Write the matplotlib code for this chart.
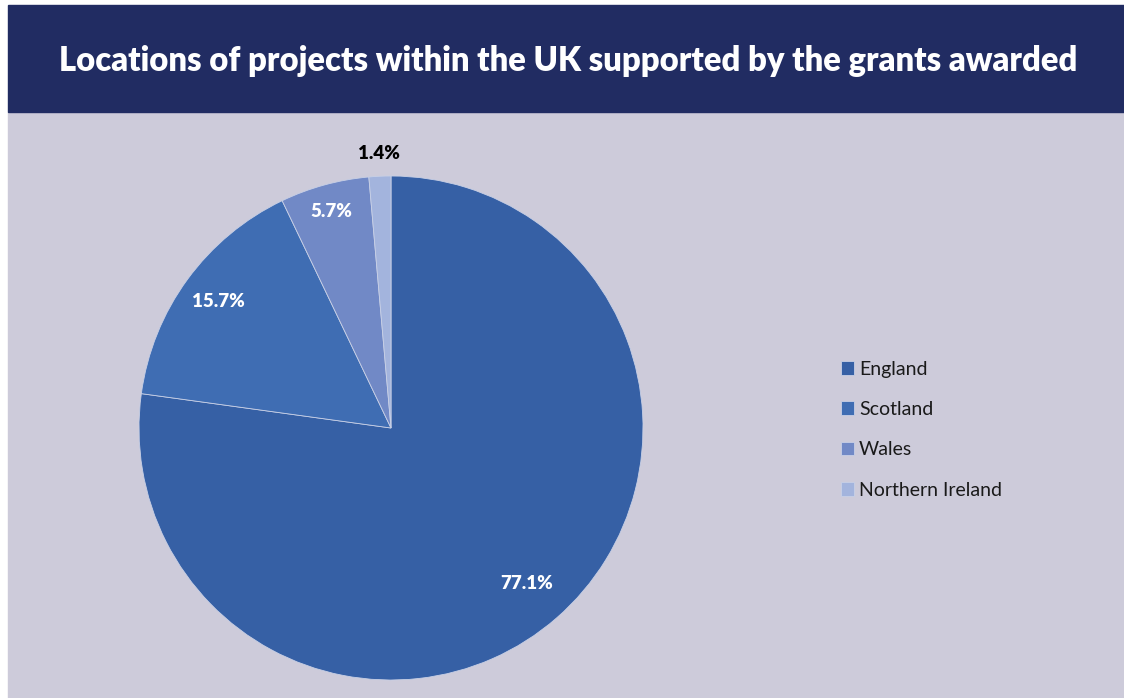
import numpy as np
import matplotlib.pyplot as plt
from matplotlib.patches import Rectangle

# grant locations (% of projects)
regions = ['England', 'Scotland', 'Wales', 'Northern Ireland']
shares = [77.1, 15.7, 5.7, 1.4]
colours = ['#3660A5', '#3F6DB3', '#7189C6', '#A3B4DD']

title = 'Locations of projects within the UK supported by the grants awarded'

W, H = 1124, 698
fig = plt.figure(figsize=(W / 100, H / 100), dpi=100)
fig.patch.set_facecolor('white')

# header band and body panel
fig.patches.append(Rectangle((8 / W, 0), 1 - 8 / W, (H - 112) / H,
                             transform=fig.transFigure, color='#CDCBDA', zorder=-2))
fig.patches.append(Rectangle((8 / W, (H - 112) / H), 1 - 8 / W, 107 / H,
                             transform=fig.transFigure, color='#212C62', zorder=-2))
fig.text(568 / W, (H - 61) / H, title, color='white', fontsize=23.6,
         fontweight='heavy', family='Lato', ha='center', va='center')

# pie: centre (391, 428) px, radius 252 px
cx, cy, r = 391, 428, 252
ax = fig.add_axes([(cx - r) / W, (H - cy - r) / H, 2 * r / W, 2 * r / H])

wedges, _ = ax.pie(shares, colors=colours, startangle=90, counterclock=False,
                   radius=1, wedgeprops=dict(edgecolor='#C8D0E6', linewidth=0.6))
ax.set_xlim(-1, 1)
ax.set_ylim(-1, 1)
ax.axis('off')

label_dist = [0.82, 0.85, 0.89, 1.09]
label_col = ['white', 'white', 'white', 'black']
for w, v, d, c in zip(wedges, shares, label_dist, label_col):
    mid = np.deg2rad((w.theta1 + w.theta2) / 2)
    ax.text(d * np.cos(mid), d * np.sin(mid), f'{v:.1f}%', color=c,
            fontsize=13.5, fontweight='heavy', family='Lato',
            ha='center', va='center')

# legend
leg = fig.legend(wedges, regions, loc='upper left',
                 bbox_to_anchor=(831 / W, (H - 351) / H), frameon=False,
                 prop={'family': 'Lato', 'size': 14},
                 handlelength=0.7, handleheight=0.7, handletextpad=0.25,
                 labelspacing=1.2, borderpad=0)
for t in leg.get_texts():
    t.set_color('#1a1a1a')

fig.savefig('out.png', dpi=100)
